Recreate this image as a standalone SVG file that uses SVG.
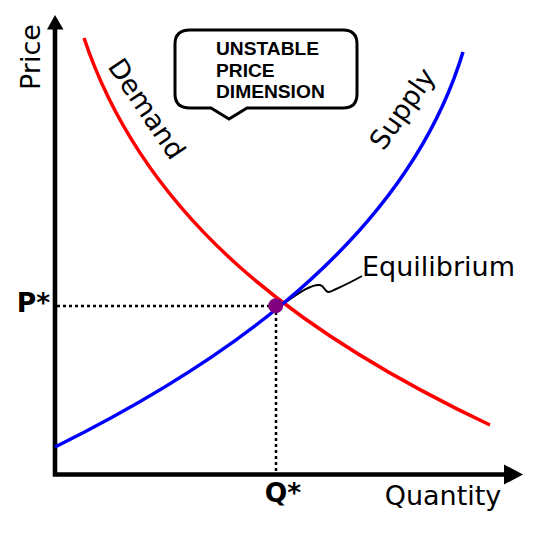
<svg xmlns="http://www.w3.org/2000/svg" width="537" height="537" viewBox="0 0 537 537">
<style>
.lbl{font-family:"DejaVu Sans",sans-serif;font-size:27px;fill:#000}
.bold{font-family:"DejaVu Sans",sans-serif;font-weight:bold;font-size:26.5px;fill:#000}
.bub{font-family:"Liberation Sans",Arial,sans-serif;font-weight:bold;font-size:19.2px;fill:#000}
.dot{stroke:#000;stroke-width:2.5;stroke-dasharray:3,3;fill:none}
</style>
<rect width="537" height="537" fill="#fff"/>
<g id="axes">
<path d="M55,476.5 V28 M52.7,474.5 H506" stroke="#000" stroke-width="4.6" fill="none"/>
<polygon points="55,15 47,29.5 63.5,29.5" fill="#000"/>
<polygon points="523,474.5 504,464.5 504,484.5" fill="#000"/>
<text class="lbl" transform="translate(40,57) rotate(-90)" text-anchor="middle" font-size="26.5">Price</text>
<text class="lbl" x="443" y="505" text-anchor="middle">Quantity</text>
</g>
<g id="connectors">
<path class="dot" d="M57,306 H276"/>
<path class="dot" d="M276,306 V472"/>
<path d="M286,302 C300,292 312,284 320,285 C326,286 324,296 334,290 C345,285 355,280 362,276" stroke="#000" stroke-width="2" fill="none"/>
</g>
<g id="demand">
<path d="M84,38 C145,220 300,335 490,425" stroke="#f00" stroke-width="3.5" fill="none"/>
<text class="lbl" transform="translate(139,114) rotate(56)" text-anchor="middle">Demand</text>
</g>
<g id="supply">
<path d="M55,447 C180,385 400,260 463,52" stroke="#00f" stroke-width="3.5" fill="none"/>
<text class="lbl" transform="translate(410,114) rotate(-55)" text-anchor="middle">Supply</text>
</g>
<g id="equilibrium">
<circle cx="275.7" cy="305.7" r="7.5" fill="#800080"/>
<text class="lbl" x="438.5" y="276" text-anchor="middle">Equilibrium</text>
</g>
<g id="pstar"><text class="bold" x="33.5" y="312" text-anchor="middle">P*</text></g>
<g id="qstar"><text class="bold" x="283" y="502" text-anchor="middle" font-size="27">Q*</text></g>
<g id="callout">
<path d="M190,30 H343 Q357,30 357,44 V94 Q357,108 343,108 H247 L229,119 L211,108 H190 Q175,108 175,94 V44 Q175,30 190,30 Z" fill="#fff" stroke="#000" stroke-width="3"/>
<text class="bub" x="216" y="55">UNSTABLE</text>
<text class="bub" x="216" y="77">PRICE</text>
<text class="bub" x="216" y="98">DIMENSION</text>
</g>
</svg>
